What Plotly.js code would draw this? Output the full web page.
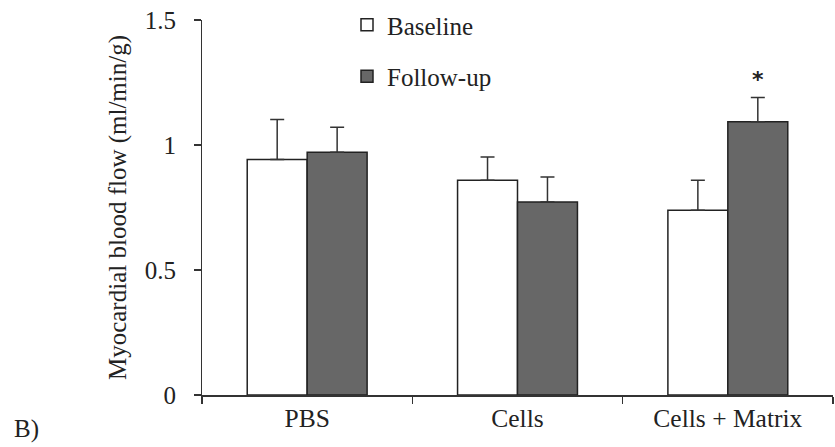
<!DOCTYPE html>
<html>
<head>
<meta charset="utf-8">
<script src="https://cdn.plot.ly/plotly-3.0.1.min.js"></script>
<style>html,body{margin:0;padding:0;background:#fff;}#chart{width:835px;height:447px;}</style>
</head>
<body>
<div id="chart"></div>
<script>
var categories = ["PBS", "Cells", "Cells + Matrix"];
var baseline = [0.942, 0.859, 0.739];
var baselineErr = [0.16, 0.093, 0.12];
var followup = [0.971, 0.772, 1.093];
var followupErr = [0.10, 0.10, 0.097];
var yTicks = [0, 0.5, 1, 1.5];
var yTickText = ["0", "0.5", "1", "1.5"];

var FONT = "Liberation Serif";
var errStyle = {type: "data", visible: true, thickness: 1.5, width: 7, color: "#333333"};

var traces = [
  {
    type: "bar", name: "Baseline", x: categories, y: baseline,
    marker: {color: "#ffffff", line: {color: "#222222", width: 1.5}},
    error_y: Object.assign({array: baselineErr, symmetric: false, arrayminus: [0,0,0]}, errStyle),
    legendgroup: "a"
  },
  {
    type: "bar", name: "Follow-up", x: categories, y: followup,
    marker: {color: "#676767", line: {color: "#222222", width: 1.5}},
    error_y: Object.assign({array: followupErr, symmetric: false, arrayminus: [0,0,0]}, errStyle),
    legendgroup: "b"
  },
  // empty helper trace so the overlay axis (short visible ticks) is drawn
  {type: "scatter", x: [], y: [], yaxis: "y2", showlegend: false, hoverinfo: "skip"}
];

var layout = {
  width: 835, height: 447,
  margin: {l: 202, r: 2, t: 18, b: 52},
  paper_bgcolor: "#ffffff", plot_bgcolor: "#ffffff",
  font: {family: FONT, size: 25, color: "#222222"},
  barmode: "group", bargap: 0.43, bargroupgap: 0,
  showlegend: true,
  legend: {
    xref: "paper", yanchor: "top",
    orientation: "v", traceorder: "grouped", tracegroupgap: 16,
    font: {family: FONT, size: 25, color: "#222222"},
    bgcolor: "rgba(0,0,0,0)", borderwidth: 0
  },
  xaxis: {
    type: "category", range: [-0.5, 2.5],
    showline: true, linecolor: "#333333", linewidth: 1.5,
    ticks: "outside", tickson: "boundaries", ticklen: 7, tickwidth: 1.5, tickcolor: "#333333",
    tickfont: {family: FONT, size: 25.5, color: "#222222"},
    showgrid: false, zeroline: false, fixedrange: true
  },
  // main y axis: labels + title; long transparent ticks push the labels away from the axis
  yaxis: {
    range: [0, 1.5], tickvals: yTicks, ticktext: yTickText,
    showline: false,
    ticks: "outside", ticklen: 20, tickwidth: 1, tickcolor: "rgba(0,0,0,0)",
    tickfont: {family: FONT, size: 25, color: "#222222"},
    showgrid: false, zeroline: false,
    title: {text: "Myocardial blood flow (ml/min/g)", font: {family: FONT, size: 25, color: "#222222"}, standoff: 11}
  },
  // overlay axis: the visible axis line and short ticks
  yaxis2: {
    overlaying: "y", matches: "y", side: "left", anchor: "x",
    tickvals: yTicks, showticklabels: false,
    showline: true, linecolor: "#333333", linewidth: 1.5,
    ticks: "outside", ticklen: 7, tickwidth: 1.5, tickcolor: "#333333",
    showgrid: false, zeroline: false
  },
  annotations: [
    {
      x: "Cells + Matrix", xref: "x", xshift: 30,
      y: followup[2] + followupErr[2], yref: "y", yanchor: "bottom", yshift: 4,
      text: "<b>*</b>", showarrow: false,
      font: {family: "DejaVu Sans", size: 22, color: "#222222"}
    },
    {
      xref: "paper", xanchor: "left",
      yref: "paper", yanchor: "middle",
      text: "B)", showarrow: false,
      font: {family: FONT, size: 25, color: "#222222"}
    }
  ]
};

// convert pixel positions for legend and "B)" label into paper fractions
var plotW = 835 - 202 - 2, plotH = 447 - 18 - 52;
layout.legend.x = (347 - 202) / plotW;
layout.legend.y = 1 + 18 / plotH;
layout.annotations[1].x = (12 - 202) / plotW;
layout.annotations[1].y = (395 - 429) / plotH;

Plotly.newPlot("chart", traces, layout, {displayModeBar: false, staticPlot: true});
</script>
</body>
</html>
